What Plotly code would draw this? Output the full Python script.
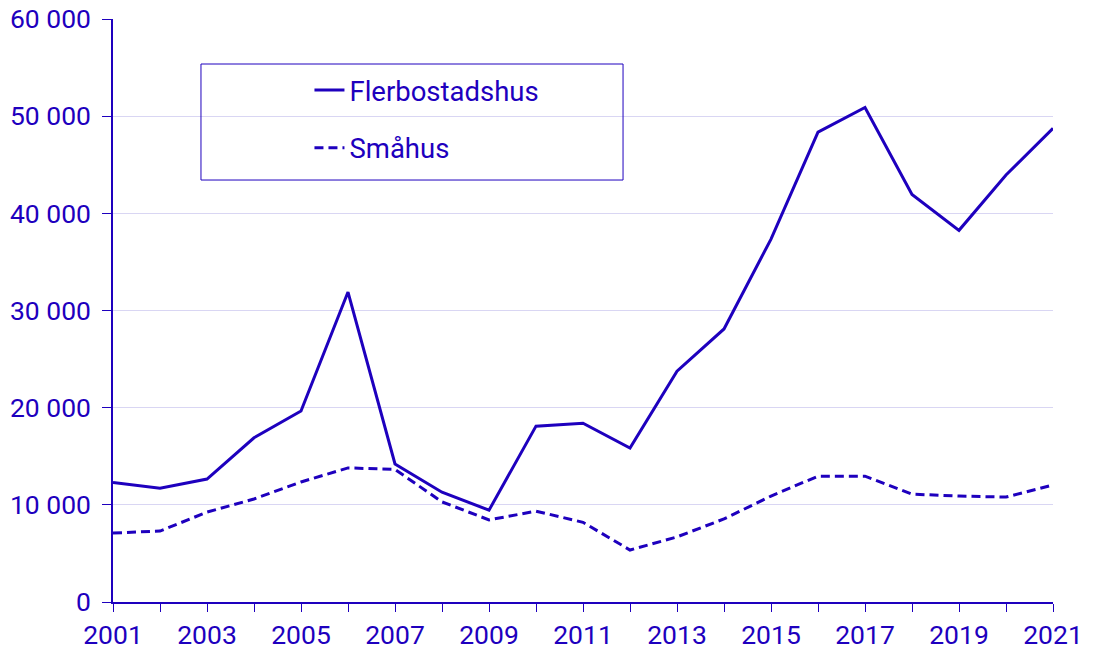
import plotly.graph_objects as go

years = list(range(2001, 2022))
flerbostadshus = [12300, 11700, 12650, 16900, 19650, 31900, 14200, 11300, 9450,
                  18100, 18400, 15850, 23750, 28100, 37350, 48350, 50900, 41950,
                  38250, 43950, 48750]
smahus = [7100, 7300, 9250, 10600, 12350, 13800, 13650, 10300, 8450,
          9350, 8200, 5350, 6700, 8550, 10900, 12950, 12950, 11100,
          10900, 10800, 12050]
series_names = ["Flerbostadshus", "Småhus"]
y_ticks = [0, 10000, 20000, 30000, 40000, 50000, 60000]
y_tick_labels = ["0", "10 000", "20 000", "30 000", "40 000", "50 000", "60 000"]
x_label_years = [str(y) if (y - 2001) % 2 == 0 else "" for y in years]

C = "#1e00be"
GRID = "#d9d6f3"
FONT = "Roboto"
FS = 26.5
LFS = 27.5

fig = go.Figure()
fig.add_trace(go.Scatter(x=years, y=flerbostadshus, name=series_names[0], mode="lines",
                         line=dict(color=C, width=3), legendgroup="a"))
fig.add_trace(go.Scatter(x=years, y=smahus, name=series_names[1], mode="lines",
                         line=dict(color=C, width=3, dash="9px,5px"), legendgroup="b"))

fig.update_layout(
    width=1098, height=657,
    margin=dict(l=113, r=45, t=19, b=55),
    paper_bgcolor="white", plot_bgcolor="white",
    font=dict(family=FONT, size=FS, color=C),
    showlegend=True,
    legend=dict(x=0.209, y=0.920, xanchor="left", yanchor="top",
                bgcolor="rgba(0,0,0,0)", borderwidth=0,
                tracegroupgap=19, traceorder="grouped",
                font=dict(family=FONT, size=LFS, color=C)),
    shapes=[dict(type="rect", xref="paper", yref="paper",
                 x0=0.0936, x1=0.5426, y0=0.7238, y1=0.9228,
                 line=dict(color=C, width=1), fillcolor="rgba(0,0,0,0)")],
)
fig.update_xaxes(
    range=[2001, 2021], tickmode="array", tickvals=years, ticktext=x_label_years,
    ticks="outside", ticklen=8, tickcolor=C, tickwidth=1, automargin=False,
    showline=True, linecolor=C, linewidth=1.5, showgrid=False, zeroline=False,
    tickfont=dict(family=FONT, size=FS, color=C),
)
fig.update_yaxes(
    range=[0, 60000], tickmode="array", tickvals=y_ticks, ticktext=y_tick_labels,
    ticks="outside", ticklen=9, tickcolor=C, tickwidth=1, automargin=False,
    ticklabelstandoff=6,
    showline=True, linecolor=C, linewidth=1.5, showgrid=True, gridcolor=GRID, gridwidth=1,
    zeroline=False, tickfont=dict(family=FONT, size=FS, color=C),
)

fig.write_html("out.html", config={"displayModeBar": False},
               post_script="document.body.style.margin='0px';")
